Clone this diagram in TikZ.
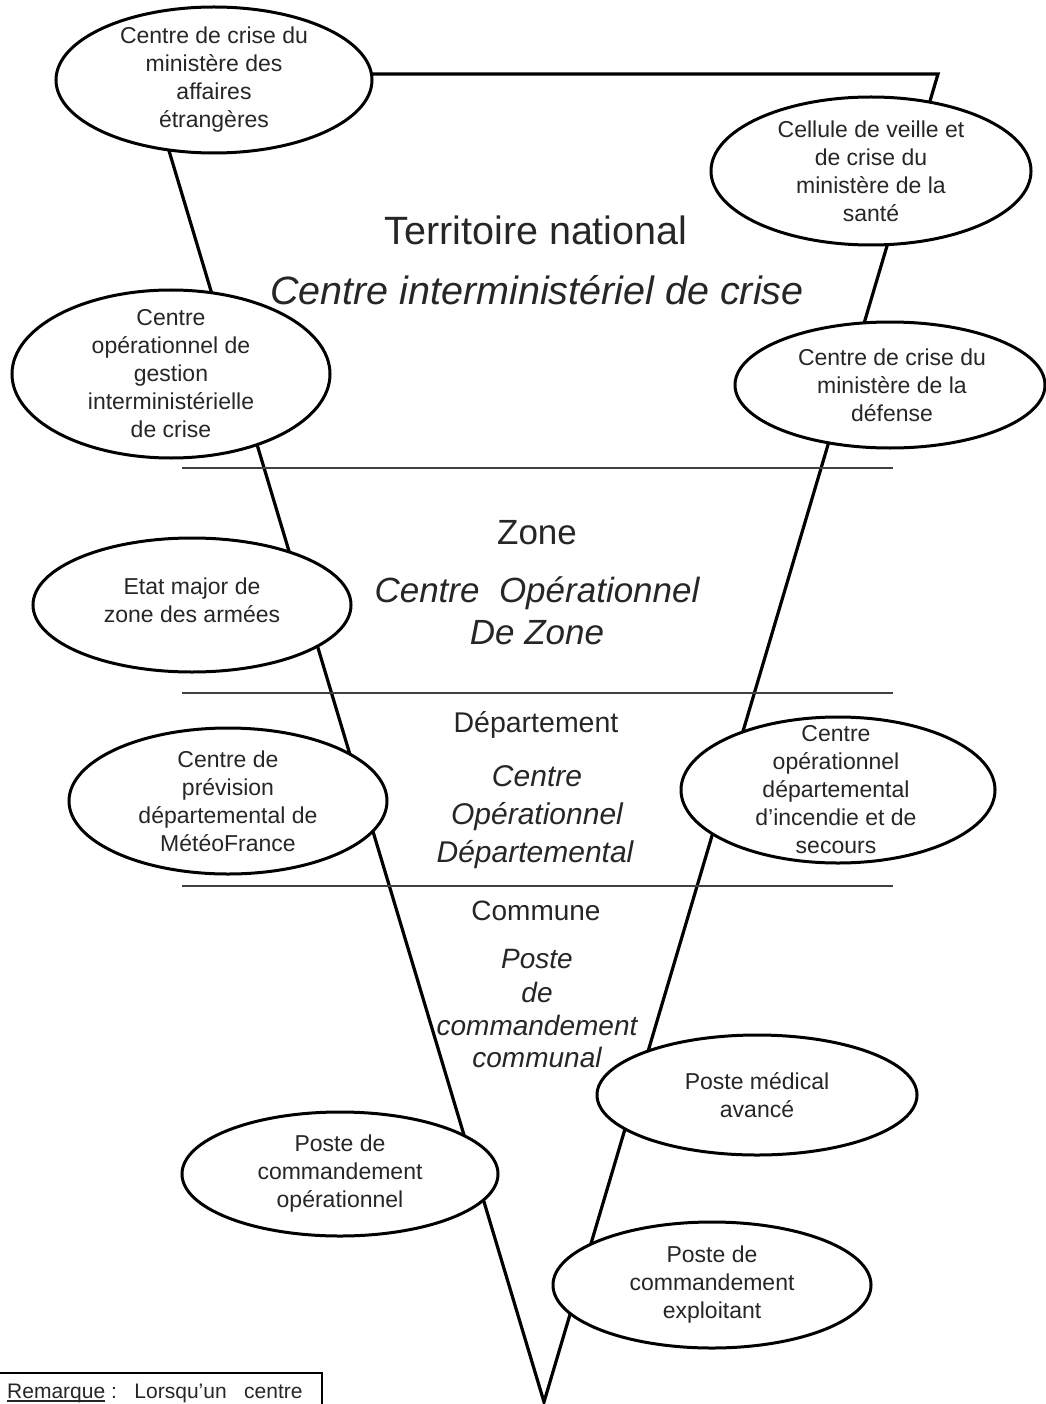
\documentclass[tikz,border=0pt]{standalone}
\usepackage{fontspec}
\setmainfont{Liberation Sans}
\usetikzlibrary{shapes.geometric}
\tikzset{
  ell/.style={ellipse, draw=black, line width=3pt, fill=white, inner sep=0pt},
  etxt/.style={align=center, font=\fontsize{23}{28}\selectfont, text=black!85, inner sep=0pt},
  frame/.style={line width=3.2pt, line join=miter, draw=black},
  divider/.style={line width=1.4pt, draw=black!75},
  big/.style={anchor=base, inner sep=0pt, text=black!85},
  remtxt/.style={anchor=base west, inner sep=0pt, text=black!85, font=\fontsize{21}{25}\selectfont},
}
\begin{document}
\begin{tikzpicture}[x=1pt,y=-1pt]
\useasboundingbox (0,0) rectangle (1045,1404);
\fill[white] (0,0) rectangle (1045,1404);

% frame of the inverted triangle
\coordinate (tl) at (146,74);
\coordinate (tr) at (938,74);
\coordinate (bt) at (544,1402);
\draw[frame] (tl) -- (tr) -- (bt) -- cycle;

% level dividers
\draw[divider] (182,468) -- (893,468);
\draw[divider] (182,693) -- (893,693);
\draw[divider] (182,886) -- (893,886);

% ellipses
\node[ell, minimum width=316pt, minimum height=146pt] (e1) at (214,80) {};
\node[etxt] (t1) at (e1) {Centre de crise du\\ministère des\\affaires\\étrangères};

\node[ell, minimum width=320pt, minimum height=148pt] (e3) at (871,171) {};
\node[etxt] (t3) at (e3) {Cellule de veille et\\de crise du\\ministère de la\\santé};

\node[ell, minimum width=318pt, minimum height=168pt] (e2) at (171,374) {};
\node[etxt] (t2) at (e2) {Centre\\opérationnel de\\gestion\\interministérielle\\de crise};

\node[ell, minimum width=310pt, minimum height=126pt] (e4) at (890,385) {};
\node[etxt] (t4) at (892,385) {Centre de crise du\\ministère de la\\défense};

\node[ell, minimum width=318pt, minimum height=134pt] (e5) at (192,605) {};
\node[etxt] (t5) at (192,600) {Etat major de\\zone des armées};

\node[ell, minimum width=318pt, minimum height=146pt] (e6) at (228,801) {};
\node[etxt] (t6) at (e6) {Centre de\\prévision\\départemental de\\MétéoFrance};

\node[ell, minimum width=314pt, minimum height=146pt] (e7) at (838,790) {};
\node[etxt] (t7) at (836,790) {Centre\\opérationnel\\départemental\\d’incendie et de\\secours};

\node[ell, minimum width=320pt, minimum height=120pt] (e8) at (757,1095) {};
\node[etxt] (t8) at (e8) {Poste médical\\avancé};

\node[ell, minimum width=316pt, minimum height=124pt] (e10) at (340,1174) {};
\node[etxt] (t10) at (e10) {Poste de\\commandement\\opérationnel};

\node[ell, minimum width=318pt, minimum height=126pt] (e9) at (712,1285) {};
\node[etxt] (t9) at (e9) {Poste de\\commandement\\exploitant};

% level titles
\node[big, font=\fontsize{39.5}{44}\selectfont] (n1) at (536,245) {Territoire national};
\node[big, font=\fontsize{39.5}{44}\selectfont\itshape] (n2) at (537,305) {Centre interministériel de crise};

\node[big, font=\fontsize{35}{40}\selectfont] (z1) at (537,544) {Zone};
\node[big, font=\fontsize{35}{40}\selectfont\itshape] (z2) at (537,602) {Centre~ Opérationnel};
\node[big, font=\fontsize{35}{40}\selectfont\itshape] (z3) at (537,644) {De Zone};

\node[big, font=\fontsize{28.5}{32}\selectfont] (d1) at (536,732) {Département};
\node[big, font=\fontsize{30}{34}\selectfont\itshape] (d2) at (537,786) {Centre};
\node[big, font=\fontsize{30}{34}\selectfont\itshape] (d3) at (537,824) {Opérationnel};
\node[big, font=\fontsize{30}{34}\selectfont\itshape] (d4) at (535,862) {Départemental};

\node[big, font=\fontsize{28}{32}\selectfont] (c1) at (536,920) {Commune};
\node[big, font=\fontsize{28}{32}\selectfont\itshape] (c2) at (537,968) {Poste};
\node[big, font=\fontsize{28}{32}\selectfont\itshape] (c3) at (537,1002) {de};
\node[big, font=\fontsize{28}{32}\selectfont\itshape] (c4) at (537,1035) {commandement};
\node[big, font=\fontsize{28}{32}\selectfont\itshape] (c5) at (537,1067) {communal};

% remark box
\draw[line width=1.5pt] (-3,1373) rectangle (322,1430);
\node[remtxt] (rem1) at (7,1398) {Remarque};
\node[remtxt] (rem2) at ([xshift=2pt]rem1.base east) {\,:~~~Lorsqu’un~~~centre};
\draw[line width=1.3pt, black!85] ([yshift=-3pt]rem1.base west) -- ([yshift=-3pt]rem1.base east);
\end{tikzpicture}
\end{document}
